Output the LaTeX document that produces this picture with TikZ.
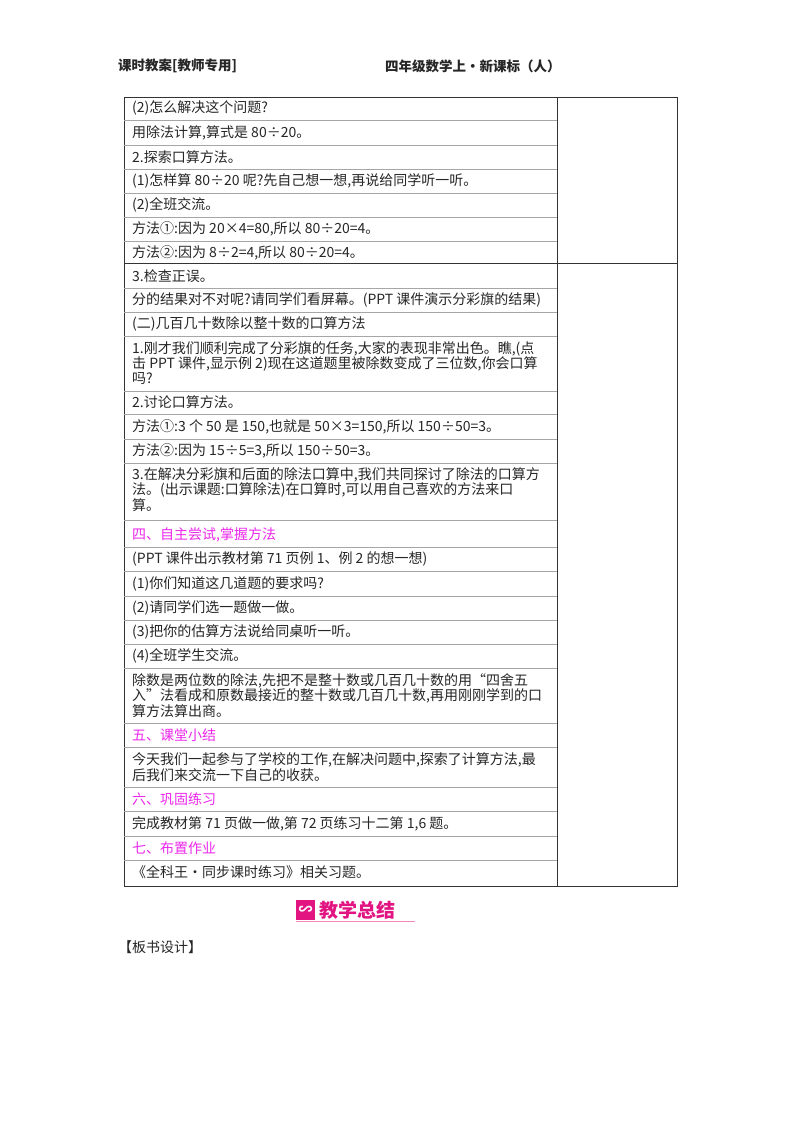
\documentclass[tikz,border=0pt]{standalone}
\usepackage{fontspec}
\setmainfont{Noto Sans CJK SC}
\definecolor{mag}{RGB}{236,40,236}
\definecolor{bpink}{RGB}{226,20,130}
\begin{document}
\begin{tikzpicture}[x=1pt,y=-1pt,
  tx/.style={anchor=west,inner sep=0pt,font=\fontsize{14}{14}\selectfont,text=black!85},
  hd/.style={tx,font=\fontsize{13.5}{13.5}\selectfont\bfseries},
  mg/.style={tx,text=mag},
  rule/.style={draw=black!35,line width=0.5pt},
  frame/.style={draw=black!80,line width=0.9pt}]
\useasboundingbox (0,0) rectangle (800,1132);
\fill[white] (0,0) rectangle (800,1132);
% header
\node[hd] (h1) at (118,66) {课时教案[教师专用]};
\node[hd] (h2) at (385,66) {四年级数学上·新课标（人）};
% table frame
\draw[frame] (124,97) rectangle (677,886);
\draw[frame] (557,97) -- (557,886);
\draw[frame] (124,263) -- (677,263);
% thin rules
\foreach \y in {120.5,145,169,193,217,241,288,312,336,391,414,439,463,520,547,571,596,620,644,668,723,747,787,811,836,860}
  \draw[rule] (124,\y) -- (557,\y);
% block 1
\node[tx] (a1) at (132,108) {(2)怎么解决这个问题?};
\node[tx] (a2) at (132,133) {用除法计算,算式是 80÷20。};
\node[tx] (a3) at (132,157) {2.探索口算方法。};
\node[tx] (a4) at (132,181) {(1)怎样算 80÷20 呢?先自己想一想,再说给同学听一听。};
\node[tx] (a5) at (132,205) {(2)全班交流。};
\node[tx] (a6) at (132,229) {方法①:因为 20×4=80,所以 80÷20=4。};
\node[tx] (a7) at (132,253) {方法②:因为 8÷2=4,所以 80÷20=4。};
% block 2
\node[tx] (b1) at (132,276) {3.检查正误。};
\node[tx] (b2) at (132,300) {分的结果对不对呢?请同学们看屏幕。(PPT 课件演示分彩旗的结果)};
\node[tx] (b3) at (132,324) {(二)几百几十数除以整十数的口算方法};
\node[tx] (b4) at (132,349) {1.刚才我们顺利完成了分彩旗的任务,大家的表现非常出色。瞧,(点};
\node[tx] (b5) at (132,364) {击 PPT 课件,显示例 2)现在这道题里被除数变成了三位数,你会口算};
\node[tx] (b6) at (132,379) {吗?};
\node[tx] (b7) at (132,402) {2.讨论口算方法。};
\node[tx] (b8) at (132,427) {方法①:3 个 50 是 150,也就是 50×3=150,所以 150÷50=3。};
\node[tx] (b9) at (132,451) {方法②:因为 15÷5=3,所以 150÷50=3。};
\node[tx] (b10) at (132,475) {3.在解决分彩旗和后面的除法口算中,我们共同探讨了除法的口算方};
\node[tx] (b11) at (132,490) {法。(出示课题:口算除法)在口算时,可以用自己喜欢的方法来口};
\node[tx] (b12) at (132,505) {算。};
\node[mg] (c1) at (132,535) {四、自主尝试,掌握方法};
\node[tx] (c2) at (132,559) {(PPT 课件出示教材第 71 页例 1、例 2 的想一想)};
\node[tx] (c3) at (132,584) {(1)你们知道这几道题的要求吗?};
\node[tx] (c4) at (132,608) {(2)请同学们选一题做一做。};
\node[tx] (c5) at (132,632) {(3)把你的估算方法说给同桌听一听。};
\node[tx] (c6) at (132,656) {(4)全班学生交流。};
\node[tx] (c7) at (132,681) {除数是两位数的除法,先把不是整十数或几百几十数的用“四舍五};
\node[tx] (c8) at (132,696) {入”法看成和原数最接近的整十数或几百几十数,再用刚刚学到的口};
\node[tx] (c9) at (132,711) {算方法算出商。};
\node[mg] (d1) at (132,735) {五、课堂小结};
\node[tx] (d2) at (132,760) {今天我们一起参与了学校的工作,在解决问题中,探索了计算方法,最};
\node[tx] (d3) at (132,775) {后我们来交流一下自己的收获。};
\node[mg] (d4) at (132,799) {六、巩固练习};
\node[tx] (d5) at (132,824) {完成教材第 71 页做一做,第 72 页练习十二第 1,6 题。};
\node[mg] (d6) at (132,848) {七、布置作业};
\node[tx] (d7) at (132,872) {《全科王·同步课时练习》相关习题。};
% banner
\fill[bpink] (296,900) rectangle (315,920);
\node[text=white,inner sep=0pt,font=\fontsize{14}{14}\selectfont\bfseries] (ic) at (305.5,910) {∽};
\node[anchor=west,inner sep=0pt,text=bpink,font=\fontsize{19}{19}\selectfont\bfseries] (bn) at (319,910) {教学总结};
\draw[bpink!50,line width=1.2pt] (296,921.5) -- (415,921.5);
\node[tx] (bs) at (118,947) {【板书设计】};
\end{tikzpicture}
\end{document}
